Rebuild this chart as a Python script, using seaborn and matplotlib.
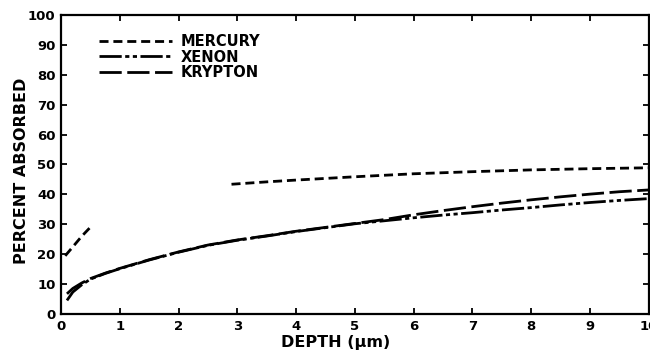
import numpy as np
import pandas as pd
import matplotlib
matplotlib.use("Agg")
import matplotlib.pyplot as plt
import seaborn as sns

# ---- data ----
depth = [0.1, 0.2, 0.35, 0.5, 0.75, 1.0, 1.5, 2.0, 2.5, 3.0, 3.5, 4.0, 4.5, 5.0,
         5.5, 6.0, 6.5, 7.0, 7.5, 8.0, 8.5, 9.0, 9.5, 10.0]
krypton = [6.8, 8.6, 10.4, 11.9, 13.7, 15.3, 18.2, 20.8, 23.1, 24.8, 26.2, 27.7, 29.0, 30.3,
           31.6, 33.2, 34.6, 35.9, 37.1, 38.2, 39.2, 40.1, 40.9, 41.5]
xenon = [4.6, 7.4, 9.8, 11.7, 13.6, 15.2, 18.1, 20.7, 23.0, 24.7, 26.1, 27.6, 28.9, 30.2,
         31.2, 32.2, 33.1, 33.9, 34.8, 35.6, 36.5, 37.3, 38.0, 38.6]
mercury_depth_a = [0.07, 0.2, 0.35, 0.52]
mercury_a = [19.5, 22.5, 26.0, 29.5]
mercury_depth_b = [2.9, 3.5, 4.0, 5.0, 6.0, 7.0, 8.0, 9.0, 10.0]
mercury_b = [43.4, 44.2, 44.8, 45.9, 46.9, 47.6, 48.2, 48.6, 48.9]

labels = ["MERCURY", "XENON", "KRYPTON"]
xticks = [0, 1, 2, 3, 4, 5, 6, 7, 8, 9, 10]
yticks = [0, 10, 20, 30, 40, 50, 60, 70, 80, 90, 100]

# ---- frame ----
frames = []
frames.append(pd.DataFrame({"depth": mercury_depth_a, "absorbed": mercury_a, "gas": labels[0], "seg": "m1"}))
frames.append(pd.DataFrame({"depth": mercury_depth_b, "absorbed": mercury_b, "gas": labels[0], "seg": "m2"}))
frames.append(pd.DataFrame({"depth": depth, "absorbed": xenon, "gas": labels[1], "seg": "x"}))
frames.append(pd.DataFrame({"depth": depth, "absorbed": krypton, "gas": labels[2], "seg": "k"}))
df = pd.concat(frames, ignore_index=True)

sns.set_theme(style="ticks")
plt.rcParams["font.family"] = ["DejaVu Sans"]
plt.rcParams["lines.scale_dashes"] = False
plt.rcParams["text.color"] = "black"
plt.rcParams["axes.labelcolor"] = "black"
plt.rcParams["xtick.color"] = "black"
plt.rcParams["ytick.color"] = "black"

fig = plt.figure(figsize=(6.5, 3.53), dpi=100)
ax = fig.add_axes([0.094, 0.110, 0.904, 0.848])

LW = 2.0
dash_map = {
    labels[0]: (0, (6.5, 3.5)),
    labels[1]: (0, (16, 2.5, 3, 2.5, 3, 2.5)),
    labels[2]: (0, (16, 4)),
}

for gas in labels:
    sub = df[df["gas"] == gas]
    first = True
    for seg, part in sub.groupby("seg", sort=False):
        sns.lineplot(data=part, x="depth", y="absorbed", ax=ax, color="black",
                     linewidth=LW, estimator=None, sort=False,
                     label=gas if first else None)
        ax.lines[-1].set_linestyle(dash_map[gas])
        first = False

ax.set_xlim(0, 10)
ax.set_ylim(0, 100)
ax.set_xticks(xticks)
ax.set_yticks(yticks)
ax.set_xticklabels([str(t) for t in xticks], fontsize=9.5, fontweight="bold")
ax.set_yticklabels([str(t) for t in yticks], fontsize=9.5, fontweight="bold")
ax.tick_params(direction="in", length=4, width=1.3, top=True, right=True,
               pad=4, colors="black")
for s in ax.spines.values():
    s.set_visible(True)
    s.set_color("black")
    s.set_linewidth(1.6)

ax.set_xlabel("DEPTH (μm)", fontsize=11.5, fontweight="bold")
ax.set_ylabel("PERCENT ABSORBED", fontsize=11.5, fontweight="bold")
ax.xaxis.set_label_coords(0.468, -0.07)
ax.yaxis.set_label_coords(-0.054, 0.48)

leg = ax.legend(loc="upper left", bbox_to_anchor=(0.055, 0.955), frameon=False,
                handlelength=5.0, handletextpad=0.6, labelspacing=0.03,
                prop={"weight": "bold", "size": 10.5}, borderaxespad=0)
for h, gas in zip(leg.legend_handles, labels):
    h.set_linestyle(dash_map[gas])
    h.set_linewidth(LW)
for t in leg.get_texts():
    t.set_color("black")

fig.savefig("out.png", dpi=100, facecolor="white")
